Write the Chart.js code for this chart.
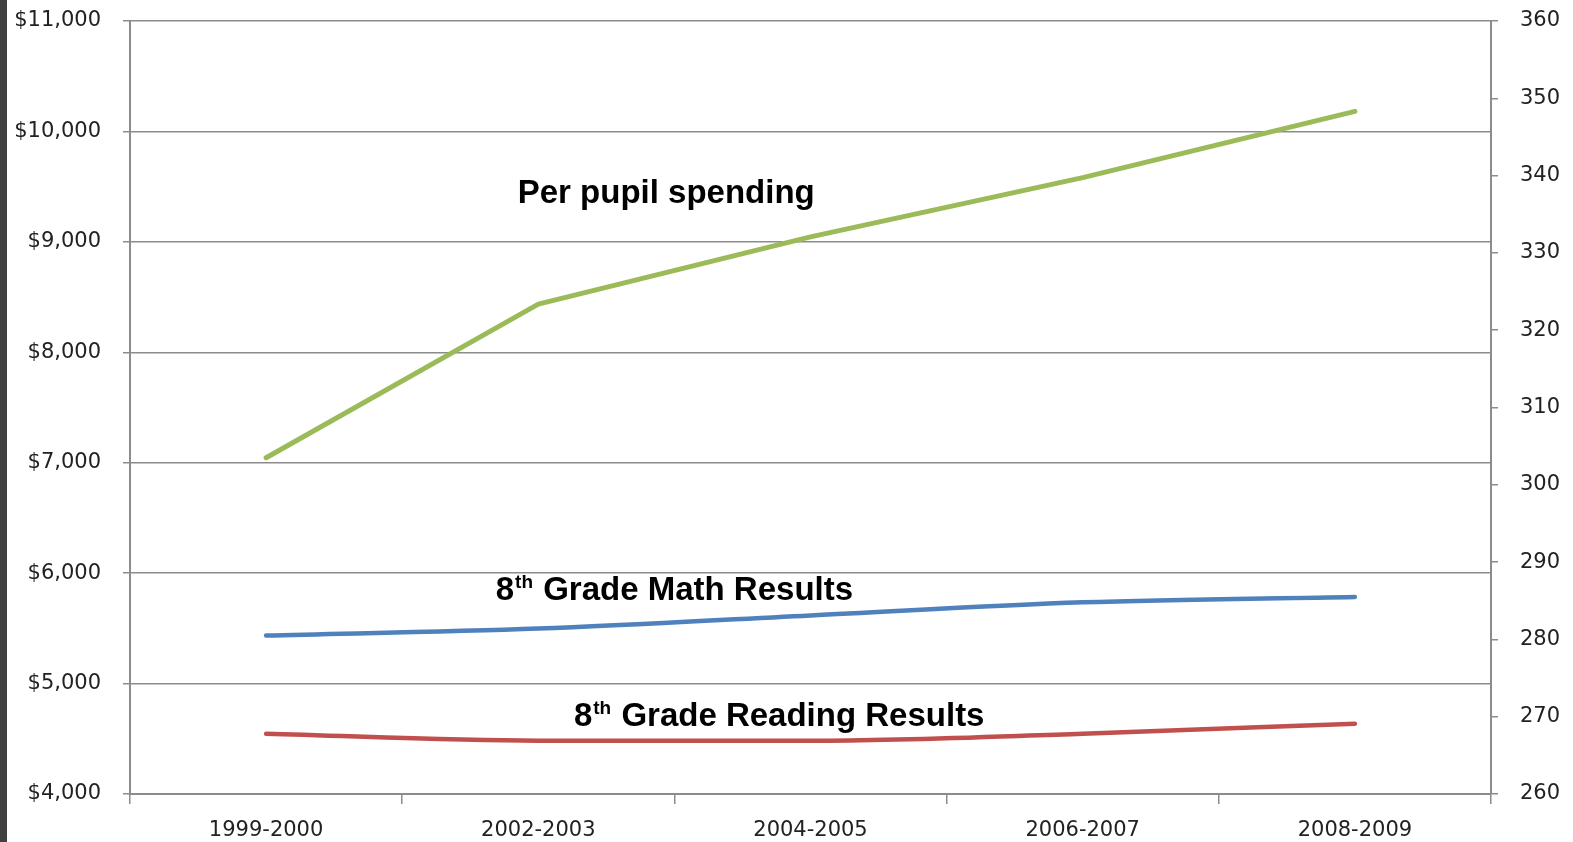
<!DOCTYPE html>
<html>
<head>
<meta charset="utf-8">
<script src="https://cdn.jsdelivr.net/npm/chart.js@4/dist/chart.umd.min.js"></script>
<style>
  html, body { margin: 0; padding: 0; background: #fff; }
  #wrap { position: relative; width: 1573px; height: 842px; }
</style>
</head>
<body>
<div id="wrap"><canvas id="c" width="1573" height="842"></canvas></div>
<script>
// ---- data ----
const categories = ['1999-2000', '2002-2003', '2004-2005', '2006-2007', '2008-2009'];
const spending = [7045, 8436, 9045, 9582, 10182];
const mathScores = [280.5, 281.4, 283.1, 284.8, 285.5];
const readingScores = [267.8, 266.9, 266.9, 267.8, 269.1];
const leftTicks = [4000, 5000, 6000, 7000, 8000, 9000, 10000, 11000];
const rightTicks = [260, 270, 280, 290, 300, 310, 320, 330, 340, 350, 360];

// annotation labels [main-before-sup, sup, rest]
const labelSpending = ['Per pupil spending', '', ''];
const labelMath = ['8', 'th', ' Grade Math Results'];
const labelReading = ['8', 'th', ' Grade Reading Results'];

const annotations = [
  { parts: labelSpending, x: 1.47, y: 9436 },
  { parts: labelMath, x: 1.5, y: 5836 },
  { parts: labelReading, x: 1.885, y: 4700 }
];

const tickFont = { family: 'DejaVu Sans', size: 21 };
const gridColor = '#8c8c8c';

const annotatePlugin = {
  id: 'annot',
  beforeDraw(chart) {
    const ctx = chart.ctx;
    ctx.save();
    ctx.fillStyle = '#404040';
    ctx.fillRect(0, 0, 7, chart.height);
    ctx.restore();
  },
  afterDatasetsDraw(chart) {
    const ctx = chart.ctx;
    const xs = chart.scales.x, ys = chart.scales.y;
    ctx.save();
    ctx.fillStyle = '#000';
    ctx.textBaseline = 'middle';
    const big = 'bold 33px "Liberation Sans", Arial, sans-serif';
    const small = 'bold 19px "Liberation Sans", Arial, sans-serif';
    annotations.forEach(a => {
      const cx = xs.getPixelForValue(a.x);
      const cy = ys.getPixelForValue(a.y);
      ctx.font = big; const w1 = ctx.measureText(a.parts[0]).width;
      const w3 = ctx.measureText(a.parts[2]).width;
      ctx.font = small; const w2 = a.parts[1] ? ctx.measureText(a.parts[1]).width + 2 : 0;
      let x = cx - (w1 + w2 + w3) / 2;
      ctx.textAlign = 'left';
      ctx.font = big; ctx.fillText(a.parts[0], x, cy); x += w1;
      if (a.parts[1]) { ctx.font = small; ctx.fillText(a.parts[1], x + 1, cy - 8); x += w2; }
      ctx.font = big; ctx.fillText(a.parts[2], x, cy);
    });
    ctx.restore();
  }
};

new Chart(document.getElementById('c'), {
  type: 'line',
  data: {
    labels: categories,
    datasets: [
      { label: 'Per pupil spending', data: spending, yAxisID: 'y', borderColor: '#9BBB59', borderWidth: 5, pointRadius: 0, tension: 0, borderCapStyle: 'round', borderJoinStyle: 'round' },
      { label: '8th Grade Math Results', data: mathScores, yAxisID: 'y2', borderColor: '#4F81BD', borderWidth: 4.5, pointRadius: 0, cubicInterpolationMode: 'monotone', borderCapStyle: 'round' },
      { label: '8th Grade Reading Results', data: readingScores, yAxisID: 'y2', borderColor: '#C0504D', borderWidth: 4.5, pointRadius: 0, cubicInterpolationMode: 'monotone', borderCapStyle: 'round' }
    ]
  },
  options: {
    responsive: false,
    animation: false,
    layout: { padding: { top: 21, left: 0, right: 0, bottom: 0 } },
    plugins: { legend: { display: false }, tooltip: { enabled: false } },
    scales: {
      x: {
        offset: true,
        grid: { offset: true, drawOnChartArea: false, tickLength: 10, color: gridColor, lineWidth: 1.5 },
        border: { color: gridColor, width: 2 },
        ticks: { font: tickFont, color: '#222', padding: 14, maxRotation: 0 },
        afterFit(s) { s.height = 48; s.paddingLeft = 0; s.paddingRight = 0; }
      },
      y: {
        position: 'left',
        min: 4000, max: 11000,
        afterBuildTicks(s) { s.ticks = leftTicks.map(v => ({ value: v })); },
        grid: { color: gridColor, lineWidth: 1.5, tickLength: 7 },
        border: { color: gridColor, width: 2 },
        ticks: { font: tickFont, color: '#222', padding: 22, callback: v => '$' + v.toLocaleString('en-US') },
        afterFit(s) { s.width = 130; s.paddingTop = 0; s.paddingBottom = 0; }
      },
      y2: {
        position: 'right',
        min: 260, max: 360,
        afterBuildTicks(s) { s.ticks = rightTicks.map(v => ({ value: v })); },
        grid: { drawOnChartArea: false, color: gridColor, lineWidth: 1.5, tickLength: 7 },
        border: { color: gridColor, width: 2 },
        ticks: { font: tickFont, color: '#222', padding: 22 },
        afterFit(s) { s.width = 82; s.paddingTop = 0; s.paddingBottom = 0; }
      }
    }
  },
  plugins: [annotatePlugin]
});
</script>
</body>
</html>
